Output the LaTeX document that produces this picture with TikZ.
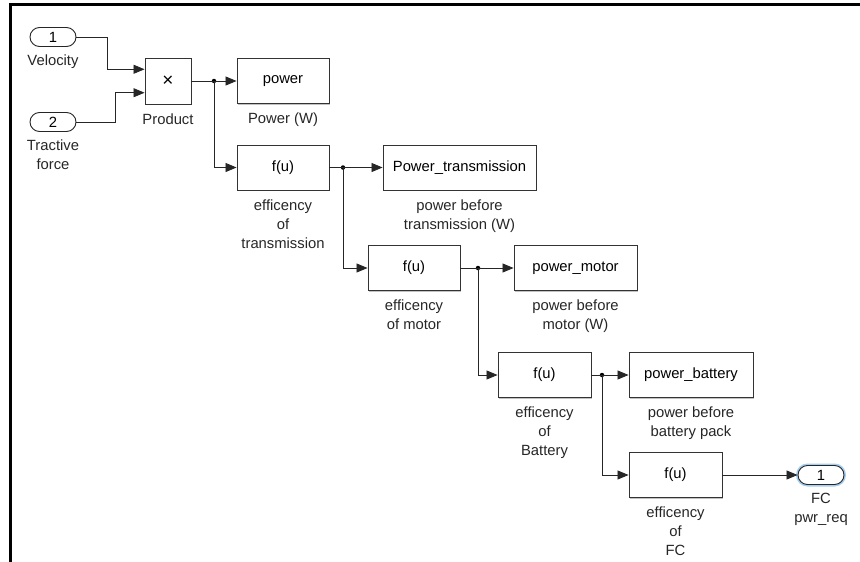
\documentclass[tikz,border=0pt]{standalone}
\usepackage{fontspec}
\setmainfont{Liberation Sans}
\usetikzlibrary{positioning,calc,arrows.meta,shadows}
\definecolor{glow}{RGB}{165,205,240}

\begin{document}
\begin{tikzpicture}[x=1pt,y=-1pt,
    font=\fontsize{14.8}{19}\selectfont,
    blk/.style={draw=black!80, fill=white, line width=0.9pt, minimum width=92pt, minimum height=45pt, inner sep=0pt,
                drop shadow={shadow xshift=1.2pt, shadow yshift=-1.2pt, fill=black!40, opacity=0.6}},
    port/.style={draw=black!85, fill=white, line width=0.9pt, rounded corners=9.5pt, minimum width=46pt, minimum height=19pt, inner sep=0pt},
    lbl/.style={inner sep=0pt, align=center, text=black!85},
    wire/.style={draw=black!85, line width=0.8pt},
    sig/.style={wire, -{Triangle[length=11pt,width=9pt]}},
    dot/.style={circle, fill=black, inner sep=0pt, minimum size=4.5pt}]
    \useasboundingbox (0,0) rectangle (860,562);
    \draw[line width=2.5pt] (10.5,562) -- (10.5,4.5) -- (860,4.5);

    % inputs and product
    \node[port] (in1) at (53,37) {1};
    \node[lbl, below=8pt of in1] (in1lbl) {Velocity};
    \node[port] (in2) at (53,122) {2};
    \node[lbl, below=8pt of in2] (in2lbl) {Tractive\\force};
    \node[blk, minimum width=46pt, minimum height=46pt] (prod) at (168,81) {\fontsize{19}{19}\selectfont ×};
    \node[lbl, below=9pt of prod] (prodlbl) {Product};
    \coordinate (prodin1) at ($(prod.north west)!0.25!(prod.south west)$);
    \coordinate (prodin2) at ($(prod.north west)!0.75!(prod.south west)$);

    % blocks
    \node[blk] (pwr) at (283,81) {power};
    \node[lbl, below=9pt of pwr] (pwrlbl) {Power (W)};
    \node[blk] (eff1) at (283,167.5) {f(u)};
    \node[lbl, below=9pt of eff1] (eff1lbl) {efficency\\of\\transmission};
    \node[blk, minimum width=153pt] (ptrans) at (459.5,167.5) {Power\_transmission};
    \node[lbl, below=9pt of ptrans] (ptranslbl) {power before\\transmission (W)};
    \node[blk] (eff2) at (414,268) {f(u)};
    \node[lbl, below=9pt of eff2] (eff2lbl) {efficency\\of motor};
    \node[blk, minimum width=123pt] (pmot) at (575.5,268) {power\_motor};
    \node[lbl, below=9pt of pmot] (pmotlbl) {power before\\motor (W)};
    \node[blk, minimum width=93pt] (eff3) at (544.5,375) {f(u)};
    \node[lbl, below=9pt of eff3] (eff3lbl) {efficency\\of\\Battery};
    \node[blk, minimum width=124pt] (pbat) at (691,375) {power\_battery};
    \node[lbl, below=9pt of pbat] (pbatlbl) {power before\\battery pack};
    \node[blk, minimum width=93pt] (eff4) at (675.5,475) {f(u)};
    \node[lbl, below=9pt of eff4] (eff4lbl) {efficency\\of\\FC};
    \node[port, preaction={draw=glow, line width=4pt}] (out1) at (821,475) {1};
    \node[lbl, below=8pt of out1] (out1lbl) {FC\\pwr\_req};

    % branch points
    \node[dot] (b1) at (214,81) {};
    \node[dot] (b2) at (343,167.5) {};
    \node[dot] (b3) at (478,268) {};
    \node[dot] (b4) at (602,375) {};

    % signals
    \draw[sig] (in1.east) -- ++(31,0) |- (prodin1);
    \draw[sig] (in2.east) -- ++(39,0) |- (prodin2);
    \draw[wire] (prod.east) -- (b1.center);
    \draw[sig] (b1.center) -- (pwr.west);
    \draw[sig] (b1.center) |- (eff1.west);
    \draw[wire] (eff1.east) -- (b2.center);
    \draw[sig] (b2.center) -- (ptrans.west);
    \draw[sig] (b2.center) |- (eff2.west);
    \draw[wire] (eff2.east) -- (b3.center);
    \draw[sig] (b3.center) -- (pmot.west);
    \draw[sig] (b3.center) |- (eff3.west);
    \draw[wire] (eff3.east) -- (b4.center);
    \draw[sig] (b4.center) -- (pbat.west);
    \draw[sig] (b4.center) |- (eff4.west);
    \draw[sig] (eff4.east) -- (out1.west);
\end{tikzpicture}
\end{document}
